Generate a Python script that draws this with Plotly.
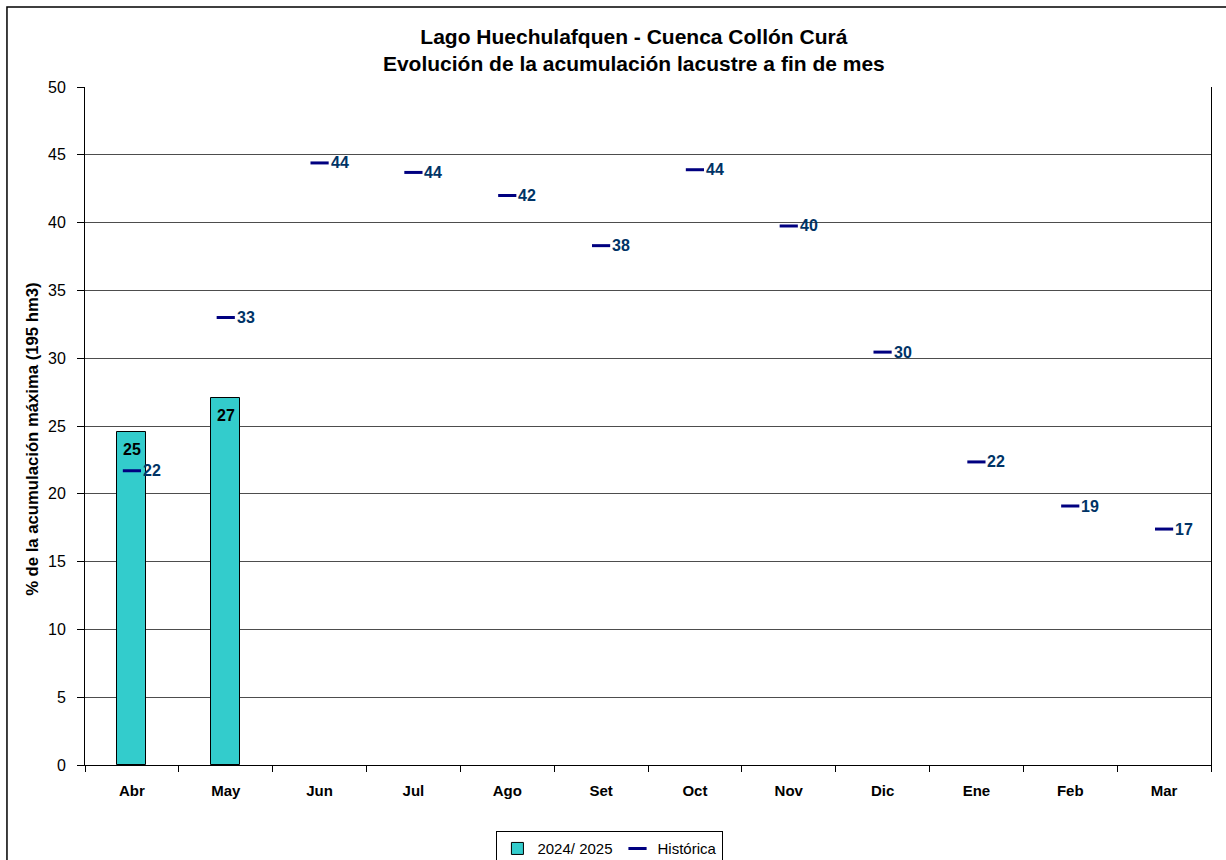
import plotly.graph_objects as go

months = ["Abr", "May", "Jun", "Jul", "Ago", "Set", "Oct", "Nov", "Dic", "Ene", "Feb", "Mar"]
actual_months = ["Abr", "May"]
actual_values = [24.56, 27.07]
hist_values = [21.7, 33.0, 44.4, 43.7, 42.0, 38.3, 43.9, 39.75, 30.45, 22.35, 19.1, 17.4]

FONT = "Arial, Liberation Sans, sans-serif"

fig = go.Figure()
fig.add_trace(go.Bar(
    x=actual_months, y=actual_values, name="2024/ 2025",
    marker=dict(color="#33CCCC", line=dict(color="#000000", width=1)),
    width=0.31,
))
fig.add_trace(go.Scatter(
    x=months, y=hist_values, name="Histórica", mode="markers",
    marker=dict(symbol="line-ew", size=13, line=dict(color="#000080", width=3), color="#000080"),
))

# data labels
for m, v in zip(actual_months, actual_values):
    fig.add_annotation(x=m, y=v, text=f"<b>{v:.0f}</b>", showarrow=False,
                       xanchor="center", yanchor="top", yshift=-7,
                       font=dict(family=FONT, size=16, color="#000000"))
for m, v in zip(months, hist_values):
    fig.add_annotation(x=m, y=v, text=f"<b>{v:.0f}</b>", showarrow=False,
                       xanchor="left", yanchor="middle", xshift=9,
                       font=dict(family=FONT, size=16, color="#003366"))

# y-axis title
fig.add_annotation(xref="paper", yref="paper", x=-0.0462, y=0.481,
                   text="<b>% de la acumulación máxima (195 hm3)</b>", textangle=-90,
                   showarrow=False, xanchor="center", yanchor="middle",
                   font=dict(family=FONT, size=16.7, color="#000000"))

fig.update_layout(
    width=1226, height=860,
    margin=dict(l=85, r=15, t=87, b=95),
    paper_bgcolor="white", plot_bgcolor="white",
    font=dict(family=FONT, size=16, color="#000000"),
    title=dict(
        text="Lago Huechulafquen - Cuenca Collón Curá<br>Evolución de la acumulación lacustre a fin de mes",
        x=0.517, xanchor="center", y=0.949, yanchor="top",
        font=dict(family=FONT, size=21, color="#000000", weight="bold"),
    ),
    showlegend=True,
    legend=dict(
        orientation="h", x=0.4975, xanchor="center", xref="container",
        y=0.0335, yanchor="top", yref="container",
        bordercolor="#000000", borderwidth=1,
        font=dict(family=FONT, size=15, color="#000000"),
        itemwidth=30, tracegroupgap=0,
    ),
    bargap=0.0,
)
fig.update_xaxes(
    categoryorder="array", categoryarray=months,
    showline=True, linecolor="#000000", linewidth=1,
    ticks="outside", ticklen=6, tickcolor="#000000", tickson="boundaries",
    tickfont=dict(family=FONT, size=15, color="#000000", weight="bold"),
    ticklabelstandoff=12,
    showgrid=False, range=[-0.5, 11.5],
)
fig.update_yaxes(
    range=[0, 50], dtick=5, tick0=0,
    showline=True, linecolor="#000000", linewidth=1, mirror=True,
    ticks="outside", ticklen=7, tickcolor="#000000",
    ticklabelstandoff=8,
    showgrid=True, gridcolor="#4d4d4d", gridwidth=1,
    tickfont=dict(family=FONT, size=16, color="#000000"),
    zeroline=False,
)
fig.add_shape(type="rect", xref="paper", yref="paper",
              x0=-0.0693, x1=1.03, y0=-0.2, y1=1.118,
              line=dict(color="#000000", width=1.5), fillcolor="rgba(0,0,0,0)", layer="above")

fig.write_html("out.html", config={"displayModeBar": False},
               post_script="document.body.style.margin='0';")
